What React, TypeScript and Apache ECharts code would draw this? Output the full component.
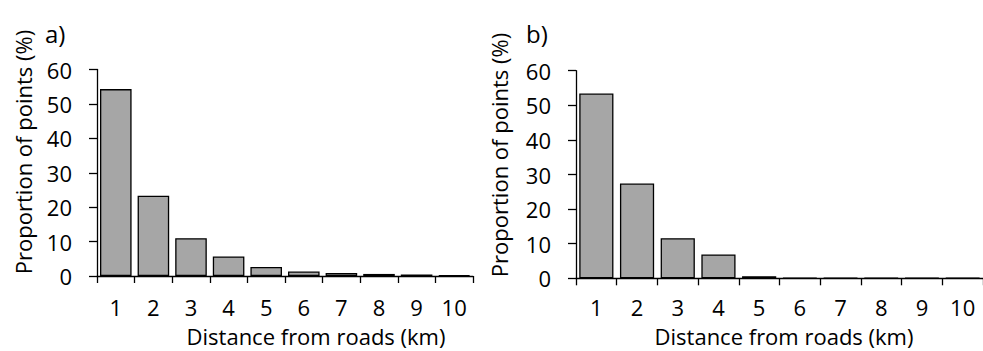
import React, { useEffect, useRef } from "react";
import * as echarts from "echarts";

const categories = ["1", "2", "3", "4", "5", "6", "7", "8", "9", "10"];
const valuesA = [54.3, 23.3, 11.0, 5.7, 2.6, 1.3, 0.9, 0.6, 0.4, 0.2];
const valuesB = [53.4, 27.4, 11.6, 6.9, 0.6, 0.1, 0.1, 0.1, 0.1, 0.1];
const yTicks = { min: 0, max: 60, interval: 10 };
const panelLabels = ["a)", "b)"];
const xTitle = "Distance from roads (km)";
const yTitle = "Proportion of points (%)";

const FONT = "'Open Sans', sans-serif";
const FS = 22;

export default function App() {
  const ref = useRef<HTMLDivElement>(null);
  useEffect(() => {
    if (!ref.current) return;
    const chart = echarts.init(ref.current, undefined, { renderer: "svg" });
    const axisLine = { show: true, lineStyle: { color: "#000", width: 1.3 } };
    const mkX = (gi: number, margin: number) => ({
      type: "category",
      gridIndex: gi,
      data: categories,
      boundaryGap: true,
      axisLine,
      axisTick: { show: true, alignWithLabel: false, length: 7, lineStyle: { color: "#000", width: 1.3 } },
      axisLabel: { color: "#000", fontFamily: FONT, fontSize: FS, lineHeight: 22, margin, interval: 0 },
      splitLine: { show: false },
    });
    const mkY = (gi: number) => ({
      type: "value",
      gridIndex: gi,
      min: yTicks.min,
      max: yTicks.max,
      interval: yTicks.interval,
      axisLine,
      axisTick: { show: true, length: 8, lineStyle: { color: "#000", width: 1.3 } },
      axisLabel: { color: "#000", fontFamily: FONT, fontSize: FS, lineHeight: 22, margin: 25 },
      splitLine: { show: false },
    });
    const barStyle = { color: "#a6a6a6", borderColor: "#000", borderWidth: 1.3 };
    const txt = (x: number, y: number, text: string, rot = 0, align = "center", fs = FS) => ({
      type: "text",
      x,
      y,
      rotation: rot,
      style: {
        text,
        fontFamily: FONT,
        fontSize: fs,
        lineHeight: fs,
        fill: "#000",
        align,
        verticalAlign: "middle",
      },
    });
    chart.setOption({
      animation: false,
      grid: [
        { left: 97, top: 69.5, width: 376, bottom: 75, containLabel: false },
        { left: 576, top: 70.7, width: 415, bottom: 72.7, containLabel: false },
      ],
      xAxis: [mkX(0, 20), mkX(1, 18)],
      yAxis: [mkY(0), mkY(1)],
      series: [
        { type: "bar", xAxisIndex: 0, yAxisIndex: 0, data: valuesA, barCategoryGap: "16%", itemStyle: barStyle },
        { type: "bar", xAxisIndex: 1, yAxisIndex: 1, data: valuesB, barCategoryGap: "16%", itemStyle: barStyle },
      ],
      graphic: [
        txt(45, 33, panelLabels[0], 0, "left", 24),
        txt(526, 33, panelLabels[1], 0, "left", 24),
        txt(316, 336, xTitle),
        txt(784, 336, xTitle),
        txt(23, 152, yTitle, Math.PI / 2),
        txt(499, 155, yTitle, Math.PI / 2),
      ],
    });
    return () => chart.dispose();
  }, []);
  return (
    <div
      ref={ref}
      style={{ position: "fixed", left: 0, top: 0, width: 983, height: 351, background: "#fff" }}
    />
  );
}
